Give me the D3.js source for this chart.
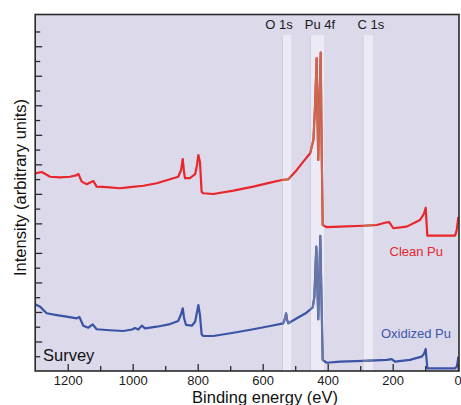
<!DOCTYPE html>
<html>
<head>
<meta charset="utf-8">
<script src="https://cdn.jsdelivr.net/npm/d3@7"></script>
<style>
  body { margin: 0; background: #fff; }
  svg text { font-family: "Liberation Sans", Arial, Helvetica, sans-serif; }
</style>
</head>
<body>
<div id="chart"></div>
<script>
// spectra: [binding energy (eV), intensity (arb.)]
const cleanPu = [
  [1300, 13.39], [1280, 13.48], [1254, 13.16], [1224, 13.12], [1193, 13.16],
  [1174, 13.25], [1167, 13.35], [1157, 12.83], [1141, 12.65], [1131, 12.77],
  [1121, 12.87], [1111, 12.49], [1080, 12.45], [1039, 12.38], [1008, 12.45],
  [967, 12.55], [926, 12.72], [885, 12.99], [860, 13.16], [851, 13.62],
  [846, 14.36], [842, 13.48], [839, 13.06], [824, 13.06], [808, 13.33],
  [802, 13.96], [798, 14.63], [793, 14.16], [788, 12.15], [783, 12.04],
  [752, 11.99], [690, 12.22], [629, 12.49], [577, 12.76], [541, 12.94],
  [521, 12.99], [495, 13.62], [475, 14.18], [454, 14.75], [444, 15.65],
  [439, 17.91], [434, 21.19], [431.4, 17.0], [429, 14.30], [425.5, 18.36],
  [421.5, 21.57], [418.5, 14.97], [415.4, 9.89], [403, 9.74], [362, 9.78],
  [290, 9.84], [249, 9.89], [221, 10.06], [211, 10.09], [198, 9.67],
  [157, 9.78], [116, 10.23], [104, 10.64], [98.5, 11.06], [93.5, 9.17],
  [54, 9.17], [8, 9.17], [3, 9.55], [-2, 10.43]
];
const oxidizedPu = [
  [1300, 4.52], [1285, 4.36], [1265, 3.91], [1234, 3.79], [1203, 3.68],
  [1172, 3.57], [1164, 3.66], [1152, 3.07], [1137, 2.93], [1123, 3.16],
  [1111, 2.83], [1070, 2.76], [1029, 2.71], [1002, 2.81], [993, 2.91],
  [983, 2.81], [972, 3.07], [962, 2.89], [926, 3.00], [885, 3.18],
  [860, 3.39], [851, 3.86], [846, 4.25], [842, 3.59], [836, 3.12],
  [818, 3.07], [808, 3.34], [802, 4.00], [798, 4.47], [793, 3.79],
  [788, 2.49], [783, 2.37], [752, 2.37], [690, 2.59], [629, 2.83],
  [577, 3.05], [537, 3.23], [531, 3.59], [528, 3.91], [525, 3.46],
  [521, 3.23], [495, 3.57], [465, 3.95], [446, 4.32], [441, 5.03],
  [438, 6.84], [435, 8.42], [432, 5.83], [429, 3.50], [426, 6.17],
  [422.8, 9.15], [419, 4.81], [415.4, 0.75], [403, 0.56], [362, 0.63],
  [290, 0.68], [218, 0.75], [203, 0.81], [193, 0.63], [147, 0.75],
  [111, 0.97], [104, 1.15], [98.5, 1.49], [93.5, 0.18], [44, 0.18],
  [8, 0.18], [2, 0.34], [-2, 0.97]
];

// highlighted core-level windows (eV) and where their names sit
const bands = [
  { name: 'O 1s', from: 541, to: 512, labelAt: 550 },
  { name: 'Pu 4f', from: 455, to: 411, labelAt: 424 },
  { name: 'C 1s', from: 293, to: 261, labelAt: 267 }
];

const xMajorTicks = [1200, 1000, 800, 600, 400, 200, 0];
const xMinorTicks = [1100, 900, 700, 500, 300, 100];
const yTicks = d3.range(1, 24);

const W = 461, H = 405;
const plotLeft = 35.2, plotRight = 459, plotTop = 14.5, plotBottom = 371;

const svg = d3.select('#chart').append('svg')
  .attr('width', W)
  .attr('height', H);

const x = d3.scaleLinear().domain([1300, -4]).range([plotLeft, plotRight]);
const y = d3.scaleLinear().domain([0, 24.15]).range([plotBottom, plotTop]);

const defs = svg.append('defs');
defs.append('clipPath').attr('id', 'plotClip')
  .append('rect')
  .attr('x', plotLeft).attr('y', plotTop)
  .attr('width', plotRight - plotLeft).attr('height', plotBottom - plotTop);

const bandClip = defs.append('clipPath').attr('id', 'bandClip');
bands.forEach(b => {
  bandClip.append('rect')
    .attr('x', x(b.from)).attr('y', plotTop)
    .attr('width', x(b.to) - x(b.from)).attr('height', plotBottom - plotTop);
});

// plot background
svg.append('rect')
  .attr('x', plotLeft).attr('y', plotTop)
  .attr('width', plotRight - plotLeft).attr('height', plotBottom - plotTop)
  .style('fill', '#dcd9eb');

// bands
const bandTop = y(22.75);
const bandG = svg.append('g');
bandG.selectAll('rect.band')
  .data(bands)
  .enter()
  .append('rect')
  .classed('band', true)
  .attr('x', d => x(d.from))
  .attr('y', bandTop)
  .attr('width', d => x(d.to) - x(d.from))
  .attr('height', plotBottom - bandTop)
  .style('fill', '#ecebf5');
bandG.selectAll('line.edge')
  .data(bands)
  .enter()
  .append('line')
  .classed('edge', true)
  .attr('x1', d => x(d.from) + 0.5).attr('x2', d => x(d.from) + 0.5)
  .attr('y1', bandTop).attr('y2', plotBottom)
  .style('stroke', '#cfcdda')
  .style('stroke-width', '1.2px');

svg.selectAll('text.bandlabel')
  .data(bands)
  .enter()
  .append('text')
  .classed('bandlabel', true)
  .attr('x', d => x(d.labelAt))
  .attr('y', 28.5)
  .style('text-anchor', 'middle')
  .style('font-size', '13px')
  .style('fill', '#1a1a1a')
  .text(d => d.name);

// spectra
const line = d3.line()
  .x(d => x(d[0]))
  .y(d => y(d[1]));

const lines = svg.append('g').attr('clip-path', 'url(#plotClip)');
lines.append('path')
  .datum(cleanPu)
  .attr('d', line)
  .style('fill', 'none')
  .style('stroke', '#e8262b')
  .style('stroke-width', '2.2px')
  .style('stroke-linejoin', 'round');
lines.append('path')
  .datum(oxidizedPu)
  .attr('d', line)
  .style('fill', 'none')
  .style('stroke', '#3a53a4')
  .style('stroke-width', '2.2px')
  .style('stroke-linejoin', 'round');

// the lines look tinted where they cross the bands
const tinted = svg.append('g').attr('clip-path', 'url(#bandClip)');
tinted.append('path')
  .datum(cleanPu)
  .attr('d', line)
  .style('fill', 'none')
  .style('stroke', '#c86a50')
  .style('stroke-width', '2px')
  .style('stroke-linejoin', 'round');
tinted.append('path')
  .datum(oxidizedPu)
  .attr('d', line)
  .style('fill', 'none')
  .style('stroke', '#6876a8')
  .style('stroke-width', '2px')
  .style('stroke-linejoin', 'round');

// axes (ticks point inward)
const xMajor = svg.append('g')
  .attr('transform', 'translate(0,' + plotBottom + ')')
  .call(d3.axisBottom(x).tickValues(xMajorTicks).tickSize(-7).tickPadding(5).tickFormat(d3.format('d')));
const xMinor = svg.append('g')
  .attr('transform', 'translate(0,' + plotBottom + ')')
  .call(d3.axisBottom(x).tickValues(xMinorTicks).tickSize(-5).tickFormat(''));
const yMajor = svg.append('g')
  .attr('transform', 'translate(' + plotLeft + ',0)')
  .call(d3.axisLeft(y).tickValues(yTicks.filter(v => v % 2 === 0)).tickSize(-7).tickFormat(''));
const yMinor = svg.append('g')
  .attr('transform', 'translate(' + plotLeft + ',0)')
  .call(d3.axisLeft(y).tickValues(yTicks.filter(v => v % 2 === 1)).tickSize(-5).tickFormat(''));

[xMajor, xMinor, yMajor, yMinor].forEach(g => {
  g.select('.domain').remove();
  g.selectAll('.tick line').style('stroke', '#2a2a2a').style('stroke-width', '1.3px');
});
xMajor.selectAll('.tick text')
  .style('font-size', '13px')
  .style('fill', '#1a1a1a');

// frame
svg.append('rect')
  .attr('x', plotLeft).attr('y', plotTop)
  .attr('width', plotRight - plotLeft).attr('height', plotBottom - plotTop)
  .style('fill', 'none')
  .style('stroke', '#2a2a2a')
  .style('stroke-width', '1.6px');

// labels
svg.append('text')
  .attr('x', 43).attr('y', 361)
  .style('font-size', '16.5px')
  .style('fill', '#111')
  .text('Survey');

svg.append('text')
  .attr('x', 443).attr('y', 256)
  .style('text-anchor', 'end')
  .style('font-size', '13px')
  .style('fill', '#e8262b')
  .text('Clean Pu');

svg.append('text')
  .attr('x', 451).attr('y', 337.7)
  .style('text-anchor', 'end')
  .style('font-size', '13px')
  .style('fill', '#3f57a6')
  .text('Oxidized Pu');

svg.append('text')
  .attr('x', 265).attr('y', 402.5)
  .style('text-anchor', 'middle')
  .style('font-size', '16.5px')
  .style('fill', '#111')
  .text('Binding energy (eV)');

svg.append('text')
  .attr('transform', 'translate(25.5,' + 187.5 + ') rotate(-90)')
  .style('text-anchor', 'middle')
  .style('font-size', '16.5px')
  .style('fill', '#111')
  .text('Intensity (arbitrary units)');
</script>
</body>
</html>
